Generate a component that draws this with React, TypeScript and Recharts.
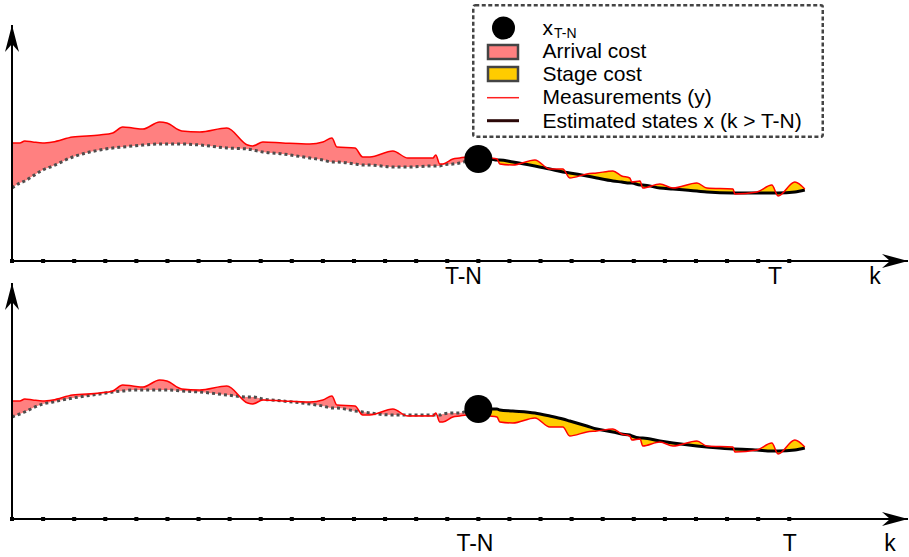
import React from 'react';
import { ComposedChart, Area, Line, XAxis, YAxis, ReferenceDot, Legend } from 'recharts';

// measurement instants along k (T-N = 15, T = 25)
const kSamples = [
  0, 0.25, 0.41, 0.67, 0.99, 1.31, 1.95, 2.82, 3.24, 3.56,
  3.88, 4.21, 4.75, 4.98, 5.46, 6.04, 6.91, 7.58, 7.74, 8.07,
  8.71, 9.58, 10.0, 10.29, 10.45, 11.03, 11.28, 11.51, 12.25, 12.73,
  13.54, 13.63, 13.76, 13.86, 14.18, 14.4, 14.63, 15,
  15.37, 15.6, 15.69, 16.11, 16.82, 17.3, 17.72, 17.94, 18.49, 18.81,
  19.33, 19.61, 19.87, 19.94, 20.2, 20.29, 20.84, 21.26, 22.03, 22.35,
  23.19, 23.25, 23.96, 24.44, 24.64, 25.18, 25.5
];

// measurements y (same in both panels)
const measurements = [
  118, 118, 120, 119, 118, 119, 124, 126, 128, 134,
  133, 132, 139, 138, 130, 129, 133, 116, 115, 119,
  118, 117, 119, 123, 114, 113, 104, 104, 110, 103,
  103, 106, 97, 97, 102, 103, 104, 104,
  103, 102, 97, 96, 101, 92, 92, 83, 87, 88,
  90, 85, 83, 79, 80, 73, 77, 73, 78, 73,
  72, 67, 69, 76, 65, 79, 72
];

// estimated states, upper panel
const estimateTop = [
  73, 78, 80, 85, 91, 95, 104, 111, 113, 114,
  115, 116, 117, 117, 117, 116, 113, 112, 111, 109,
  107, 103, 101, 99, 99, 97, 96, 96, 94, 94,
  95, 95, 95, 96, 97, 98, 100, 102,
  102, 101, 101, 99, 95, 92, 89, 88, 85, 83,
  80, 79, 78, 78, 76, 76, 73, 72, 70, 69,
  68, 68, 68, 68, 68, 69, 71
];

// estimated states, lower panel
const estimateBottom = [
  102, 105, 107, 111, 115, 117, 121, 125, 127, 128,
  129, 129, 129, 129, 128, 127, 124, 122, 122, 120,
  118, 115, 113, 111, 111, 108, 107, 106, 104, 104,
  104, 104, 104, 105, 106, 106, 108, 110,
  110, 110, 109, 108, 106, 103, 100, 98, 93, 90,
  87, 85, 84, 83, 81, 81, 78, 76, 73, 72,
  70, 70, 69, 68, 68, 69, 71
];

const tickKs = [0, 1, 2, 3, 4, 5, 6, 7, 8, 9, 10, 11, 12, 13, 14, 15, 16, 17, 18, 19, 20, 21, 22, 23, 24, 25];
const axisLabels = ['T-N', 'T', 'k'];
const legendLabels = ['Arrival cost', 'Stage cost', 'Measurements (y)', 'Estimated states x (k > T-N)'];

const T_N = 15;
const K_MAX = 28.82;
const Y_MAX = 236;
const FONT = '"Liberation Sans", Arial, Helvetica, sans-serif';
const TN_INDEX = kSamples.indexOf(T_N);

function buildRows(est: number[]) {
  return kSamples.map((k, i) => ({
    k,
    y: measurements[i],
    arrival: i <= TN_INDEX ? [est[i], measurements[i]] : null,
    stage: i >= TN_INDEX ? [est[i], measurements[i]] : null,
    prior: i < TN_INDEX ? est[i] : null,
    window: i >= TN_INDEX ? est[i] : null,
    marker: i === TN_INDEX ? est[i] : null,
  }));
}

const SquareTick = (props: any) => {
  const { x, y } = props;
  return <rect x={x - 2} y={y - 2} width={4} height={4} fill="#000" />;
};

const ArrowRight = (props: any) => {
  const { cx, cy } = props;
  return <path d={`M${cx},${cy} L${cx - 26},${cy - 7} L${cx - 18},${cy} L${cx - 26},${cy + 7} Z`} fill="#000" />;
};

const ArrowUp = (props: any) => {
  const { cx, cy } = props;
  return <path d={`M${cx},${cy} L${cx - 7},${cy + 27} L${cx},${cy + 19} L${cx + 7},${cy + 27} Z`} fill="#000" />;
};

const markerDot = (props: any) => {
  const { cx, cy, index, value } = props;
  const v = Array.isArray(value) ? value[1] : value;
  if (v == null || cy == null) return <g key={`m-${index}`} />;
  return <circle key={`m-${index}`} cx={cx} cy={cy} r={14} fill="#000" />;
};

const LegendBox = () => (
  <svg width={352} height={134} style={{ display: 'block', fontFamily: FONT }}>
    <rect x={1.25} y={1.25} width={349.5} height={131.5} rx={2} fill="#fff" stroke="#444" strokeWidth={2.5} strokeDasharray="4 2.5" />
    <circle cx={31.5} cy={24} r={11.5} fill="#000" />
    <rect x={16} y={41} width={30} height={14} fill="#ff8080" stroke="#444" strokeWidth={2.5} />
    <rect x={16} y={63} width={30} height={14} fill="#ffcc00" stroke="#444" strokeWidth={2.5} />
    <line x1={15} x2={47} y1={93.7} y2={93.7} stroke="#ff2020" strokeWidth={1.5} />
    <line x1={15} x2={47} y1={116.7} y2={116.7} stroke="#2b0808" strokeWidth={3} />
    <text x={70.5} y={31} fontSize={21} fill="#000">
      x<tspan dx={1} dy={3} fontSize={14}>T-N</tspan>
    </text>
    <text x={70.5} y={54.3} fontSize={21} fill="#000">{legendLabels[0]}</text>
    <text x={70.5} y={77} fontSize={21} fill="#000">{legendLabels[1]}</text>
    <text x={70.5} y={99.5} fontSize={21} fill="#000">{legendLabels[2]}</text>
    <text x={70.5} y={124} fontSize={21} fill="#000">{legendLabels[3]}</text>
  </svg>
);

type PanelProps = {
  est: number[];
  top: number;
  height: number;
  marginTop: number;
  axisHeight: number;
  labelKs: number[];
  labelDy: number;
  withLegend?: boolean;
};

function Panel({ est, top, height, marginTop, axisHeight, labelKs, labelDy, withLegend }: PanelProps) {
  const rows = buildRows(est);
  return (
    <div style={{ position: 'absolute', left: 0, top }}>
      <ComposedChart
        width={909}
        height={height}
        data={rows}
        margin={{ top: marginTop, right: 1, bottom: 0, left: 0 }}
        style={{ fontFamily: FONT, overflow: 'visible' }}
      >
        <XAxis
          dataKey="k"
          type="number"
          domain={[0, K_MAX]}
          ticks={tickKs}
          interval={0}
          tick={<SquareTick />}
          tickLine={false}
          tickSize={0}
          tickMargin={0}
          height={axisHeight}
          axisLine={{ stroke: '#000', strokeWidth: 2 }}
        />
        <YAxis
          type="number"
          domain={[0, Y_MAX]}
          width={12}
          tick={false}
          tickLine={false}
          axisLine={{ stroke: '#000', strokeWidth: 2 }}
        />
        <Area dataKey="arrival" type="monotone" fill="#ff8080" fillOpacity={1} stroke="none" isAnimationActive={false} />
        <Area dataKey="stage" type="monotone" fill="#ffcc00" fillOpacity={1} stroke="none" isAnimationActive={false} />
        <Line dataKey="prior" type="monotone" stroke="#4d4d4d" strokeWidth={3} strokeDasharray="3 3" dot={false} isAnimationActive={false} />
        <Line dataKey="window" type="monotone" stroke="#000" strokeWidth={3} dot={false} isAnimationActive={false} />
        <Area dataKey="marker" stroke="none" fill="none" dot={markerDot} activeDot={false} isAnimationActive={false} />
        <Line dataKey="y" type="monotone" stroke="#ff0000" strokeWidth={1.5} dot={false} isAnimationActive={false} />
        <ReferenceDot x={K_MAX} y={0} ifOverflow="visible" shape={ArrowRight} />
        <ReferenceDot x={0} y={Y_MAX} ifOverflow="visible" shape={ArrowUp} />
        {axisLabels.map((txt, i) => (
          <ReferenceDot
            key={txt}
            x={labelKs[i]}
            y={0}
            ifOverflow="visible"
            shape={(p: any) => (
              <text x={p.cx} y={p.cy + labelDy} textAnchor="middle" fontSize={23} fill="#000" fontFamily={FONT}>
                {txt}
              </text>
            )}
          />
        ))}
        {withLegend && (
          <Legend
            layout="vertical"
            align="center"
            verticalAlign="middle"
            wrapperStyle={{ left: 472, top: 4, width: 352, height: 134 }}
            content={() => <LegendBox />}
          />
        )}
      </ComposedChart>
    </div>
  );
}

export default function App() {
  return (
    <div style={{ position: 'absolute', left: 0, top: 0, width: 909, height: 557, background: '#fff' }}>
      <Panel
        est={estimateTop}
        top={0}
        height={290}
        marginTop={25}
        axisHeight={29}
        labelKs={[14.52, 24.54, 27.76]}
        labelDy={23}
        withLegend
      />
      <Panel
        est={estimateBottom}
        top={270}
        height={287}
        marginTop={13}
        axisHeight={38}
        labelKs={[14.89, 25.02, 28.24]}
        labelDy={32}
      />
    </div>
  );
}
